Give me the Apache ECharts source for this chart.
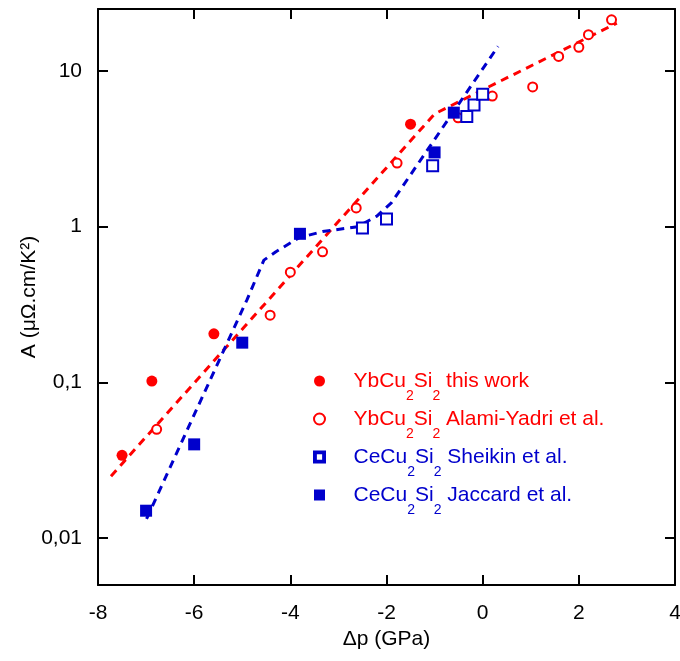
<!DOCTYPE html>
<html><head><meta charset="utf-8">
<script src="https://cdn.jsdelivr.net/npm/echarts@6/dist/echarts.min.js"></script>
<style>html,body{margin:0;padding:0;background:#fff}#c{width:680px;height:661px}</style>
</head><body><div id="c"></div>
<script>
// ---- data ----
const ybThisX = [-7.5, -6.88, -5.59, -1.5];
const ybThisA = [0.034, 0.102, 0.205, 4.55];

const ybAlamiX = [-6.78, -4.42, -4.0, -3.33, -2.63, -1.78, -0.51, 0.2, 1.04, 1.58, 2.0, 2.2, 2.68];
const ybAlamiA = [0.050, 0.27, 0.51, 0.69, 1.32, 2.56, 5.0, 6.9, 7.9, 12.4, 14.2, 17.1, 21.3];

const ceSheikinX = [-2.5, -2.0, -1.04, -0.33, -0.18, 0.0];
const ceSheikinA = [0.98, 1.12, 2.46, 5.1, 6.05, 7.1];

const ceJaccardX = [-7.0, -6.0, -5.0, -3.8, -1.0, -0.6];
const ceJaccardA = [0.015, 0.040, 0.18, 0.90, 3.0, 5.4];

// dashed guide lines
const ybGuideX = [-7.73, -1.0, 2.79];
const ybGuideA = [0.025, 5.3, 20.3];
const ceGuideX = [-6.99, -5.86, -4.9, -4.55, -4.3, -3.82, -3.33, -2.6, -2.2, -1.9, 0.32];
const ceGuideA = [0.0133, 0.077, 0.34, 0.61, 0.69, 0.85, 0.93, 1.0, 1.17, 1.42, 14.4];

const seriesNames = ['YbCu2Si2 this work', 'YbCu2Si2 Alami-Yadri et al.', 'CeCu2Si2 Sheikin et al.', 'CeCu2Si2 Jaccard et al.'];
const legendRich = [
  '{n|YbCu}{s|2}{n|Si}{s|2}{n| this work}',
  '{n|YbCu}{s|2}{n|Si}{s|2}{n| Alami-Yadri et al.}',
  '{n|CeCu}{s|2}{n|Si}{s|2}{n| Sheikin et al.}',
  '{n|CeCu}{s|2}{n|Si}{s|2}{n| Jaccard et al.}'
];
const xTicks = {min: -8, max: 4, interval: 2};
const yDecades = [0.01, 0.1, 1, 10];
const yTickLabels = ['0,01', '0,1', '1', '10'];
const xTitle = 'Δp (GPa)';
const yTitle = 'A (μΩ.cm/K²)';

// ---- build ----
const RED = '#ff0000', BLUE = '#0000cc';
const FONT = "'Liberation Sans', Arial, sans-serif";
const zip = (xs, ys) => xs.map((x, i) => [x, ys[i]]);

function yFmt(v) {
  for (let i = 0; i < yDecades.length; i++) {
    if (Math.abs(Math.log10(v) - Math.log10(yDecades[i])) < 1e-6) return yTickLabels[i];
  }
  return '';
}

const axisLineStyle = {show: true, onZero: false, lineStyle: {color: '#000', width: 2}};
const tickStyle = {show: true, inside: true, length: 10, lineStyle: {color: '#000', width: 2}};

const ICON_RECT = 'path://M0 0H10V10H0Z';
const ICON_EMPTY_RECT = 'path://M0 0H10V10H0Z M1.7 1.7V8.3H8.3V1.7Z';
const ICON_EMPTY_CIRCLE = 'path://M5 0A5 5 0 1 1 5 10A5 5 0 1 1 5 0Z M5 2A3 3 0 1 0 5 8A3 3 0 1 0 5 2Z';

const chart = echarts.init(document.getElementById('c'), null, {renderer: 'canvas'});
chart.setOption({
  animation: false,
  backgroundColor: '#fff',
  grid: {left: 98, right: 5, top: 9, bottom: 76, containLabel: false, outerBoundsMode: 'none'},
  xAxis: [
    {type: 'value', min: xTicks.min, max: xTicks.max, interval: xTicks.interval,
     axisLine: axisLineStyle, axisTick: tickStyle, splitLine: {show: false},
     axisLabel: {fontSize: 21, color: '#000', fontFamily: FONT, margin: 18, showMinLabel: true, showMaxLabel: true},
     name: xTitle, nameLocation: 'middle', nameGap: 37,
     nameTextStyle: {fontSize: 21, color: '#000', fontFamily: FONT}},
    {type: 'value', position: 'top', min: xTicks.min, max: xTicks.max, interval: xTicks.interval,
     axisLine: axisLineStyle, axisTick: tickStyle, splitLine: {show: false}, axisLabel: {show: false}}
  ],
  yAxis: [
    {type: 'log', logBase: 10, min: 0.005, max: 25, position: 'left',
     axisLine: axisLineStyle, axisTick: tickStyle, splitLine: {show: false}, minorTick: {show: false},
     axisLabel: {fontSize: 21, color: '#000', fontFamily: FONT, margin: 16, formatter: yFmt, showMinLabel: true, showMaxLabel: true},
     name: yTitle, nameLocation: 'middle', nameGap: 58, nameRotate: 90, nameMoveOverlap: false,
     nameTextStyle: {fontSize: 21, color: '#000', fontFamily: FONT}},
    {type: 'log', logBase: 10, min: 0.005, max: 25, position: 'right',
     axisLine: axisLineStyle, axisTick: tickStyle, splitLine: {show: false}, axisLabel: {show: false}}
  ],
  legend: {
    orient: 'vertical', left: 313, top: 359, padding: 0, itemGap: -6,
    itemWidth: 58, itemHeight: 11, symbolKeepAspect: true,
    data: [
      {name: seriesNames[0], icon: 'circle', textStyle: {color: RED}},
      {name: seriesNames[1], icon: 'emptyCircle', textStyle: {color: RED}},
      {name: seriesNames[2], icon: ICON_EMPTY_RECT, textStyle: {color: BLUE}},
      {name: seriesNames[3], icon: ICON_RECT, textStyle: {color: BLUE}}
    ],
    formatter: name => legendRich[seriesNames.indexOf(name)],
    textStyle: {
      fontFamily: FONT,
      rich: {
        n: {fontSize: 21, fontFamily: FONT, verticalAlign: 'middle'},
        s: {fontSize: 14, lineHeight: 16, fontFamily: FONT, padding: [30, 0, 0, 0], verticalAlign: 'middle'}
      }
    }
  },
  series: [
    {type: 'line', data: zip(ybGuideX, ybGuideA), symbol: 'none', silent: true, z: 1,
     lineStyle: {color: RED, width: 3, type: [8, 6]}},
    {type: 'line', data: zip(ceGuideX, ceGuideA), symbol: 'none', silent: true, z: 1,
     lineStyle: {color: BLUE, width: 3, type: [8, 6]}},
    {name: seriesNames[0], type: 'scatter', data: zip(ybThisX, ybThisA), symbol: 'circle', symbolSize: 11, z: 3,
     itemStyle: {color: RED, opacity: 1}},
    {name: seriesNames[1], type: 'scatter', data: zip(ybAlamiX, ybAlamiA), symbol: 'emptyCircle', symbolSize: 9, z: 3,
     itemStyle: {color: RED, borderColor: RED, borderWidth: 2, opacity: 1}},
    {name: seriesNames[2], type: 'scatter', data: zip(ceSheikinX, ceSheikinA), symbol: 'emptyRect', symbolSize: 11, z: 3,
     itemStyle: {color: BLUE, borderColor: BLUE, borderWidth: 2, opacity: 1}},
    {name: seriesNames[3], type: 'scatter', data: zip(ceJaccardX, ceJaccardA), symbol: 'rect', symbolSize: 12, z: 3,
     itemStyle: {color: BLUE, opacity: 1}}
  ]
});
</script></body></html>
